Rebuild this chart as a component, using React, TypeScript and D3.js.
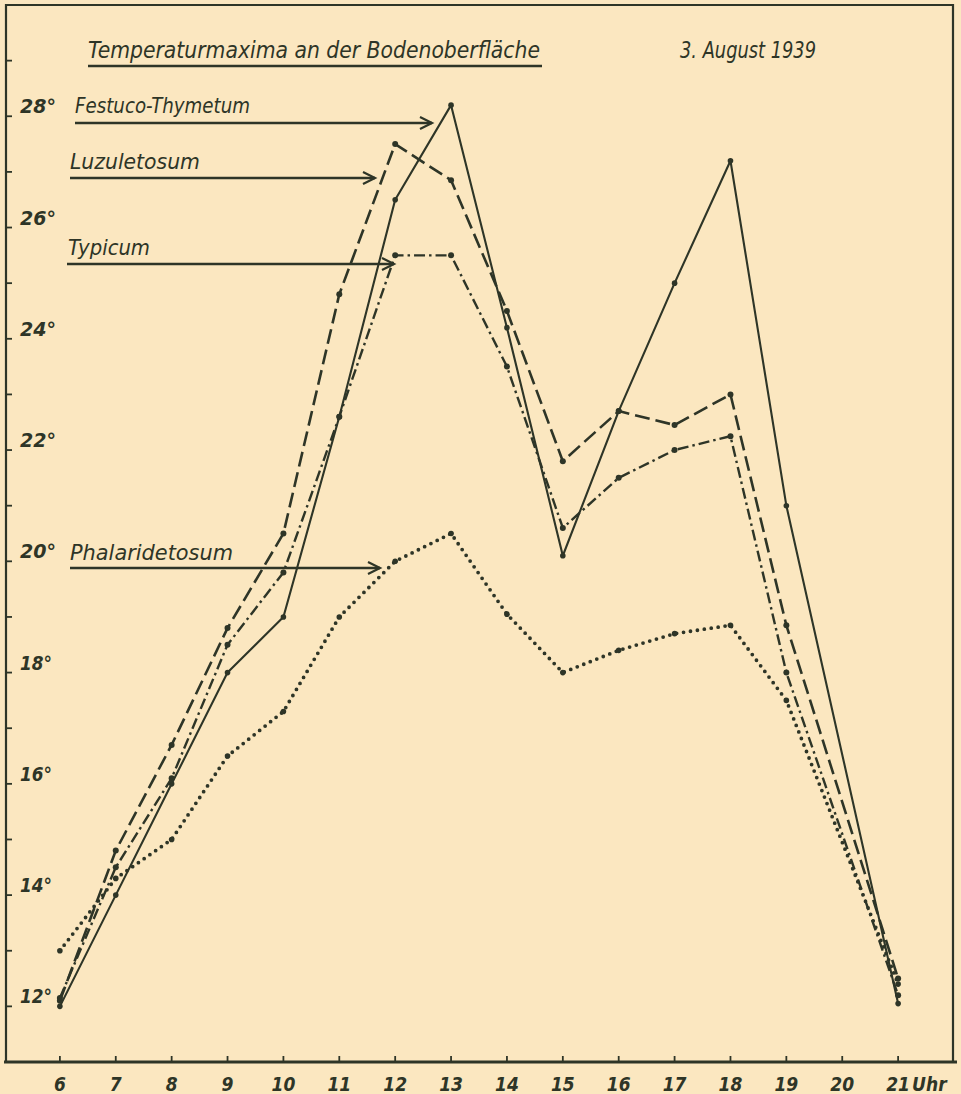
import React from 'react';
import * as d3 from 'd3';

// Stunden (20 Uhr hat keine Messung)
const hours = [6, 7, 8, 9, 10, 11, 12, 13, 14, 15, 16, 17, 18, 19, 21];
const hourTicks = [6, 7, 8, 9, 10, 11, 12, 13, 14, 15, 16, 17, 18, 19, 20, 21];
const degreeLabels = [12, 14, 16, 18, 20, 22, 24, 26, 28];

const festuco = [12.0, 14.0, 16.0, 18.0, 19.0, 22.6, 26.5, 28.2, 24.2, 20.1, 22.7, 25.0, 27.2, 21.0, 12.05];
const luzuletosum = [12.1, 14.8, 16.7, 18.8, 20.5, 24.8, 27.5, 26.85, 24.5, 21.8, 22.7, 22.45, 23.0, 18.85, 12.5];
const typicum = [12.15, 14.5, 16.1, 18.5, 19.8, 22.6, 25.5, 25.5, 23.5, 20.6, 21.5, 22.0, 22.25, 18.0, 12.2];
const phalaridetosum = [13.0, 14.3, 15.0, 16.5, 17.3, 19.0, 20.0, 20.5, 19.05, 18.0, 18.4, 18.7, 18.85, 17.5, 12.4];

const seriesNames = ['Festuco-Thymetum', 'Luzuletosum', 'Typicum', 'Phalaridetosum'];

const W = 961;
const H = 1094;
const ink = '#2e3527';
const paper = '#fbe7c0';
const font = '"DejaVu Sans Condensed", "DejaVu Sans", sans-serif';

const x = d3.scaleLinear().domain([5, 22]).range([4, 954]);
const y = d3.scaleLinear().domain([11, 30]).range([1062, 5]);

const line = d3
  .line<number>()
  .x((d, i) => x(hours[i]))
  .y((d) => y(d));

const series = [
  { name: seriesNames[0], values: festuco, dash: null, width: 2.1, cap: 'butt', dotR: 2.8 },
  { name: seriesNames[1], values: luzuletosum, dash: '15 6', width: 2.6, cap: 'butt', dotR: 3 },
  { name: seriesNames[2], values: typicum, dash: '11 4 2.5 4', width: 2.4, cap: 'butt', dotR: 3 },
  { name: seriesNames[3], values: phalaridetosum, dash: '0 7', width: 3.8, cap: 'round', dotR: 2.8 },
];

// Beschriftungen mit Pfeilen: Textbreite, Pfeilspitze und Höhe der Pfeillinie
const labels = [
  { name: seriesNames[0], tx: 75, tw: 175, ty: 113, ay: 123, ax0: 75, ax1: 432 },
  { name: seriesNames[1], tx: 70, tw: 130, ty: 169, ay: 178, ax0: 70, ax1: 375 },
  { name: seriesNames[2], tx: 68, tw: 82, ty: 255, ay: 264, ax0: 67, ax1: 394 },
  { name: seriesNames[3], tx: 70, tw: 163, ty: 560, ay: 568, ax0: 70, ax1: 380 },
];

const App = () => {
  const yTicks = d3.range(12, 30);
  return (
    <svg
      width={W}
      height={H}
      style={{ position: 'absolute', left: 0, top: 0, background: paper }}
      fontFamily={font}
    >
      <rect x={0} y={0} width={W} height={H} fill={paper} />

      {/* Rahmen */}
      <path
        d={`M${x(5) + 2},${y(11)} L${x(5) + 2},${y(30)} L${x(22) - 1},${y(30)} L${x(22) - 1},${y(11)}`}
        fill="none"
        stroke={ink}
        strokeWidth={2.2}
      />
      <line x1={x(5)} x2={x(22) + 3} y1={y(11)} y2={y(11)} stroke={ink} strokeWidth={3} />

      {/* Skalenstriche links */}
      {yTicks.map((t) => (
        <line key={t} x1={x(5) + 2} x2={x(5) + 8} y1={y(t)} y2={y(t)} stroke={ink} strokeWidth={1.8} />
      ))}
      {degreeLabels.map((t) => (
        <text
          key={t}
          x={20}
          y={y(t) - 3}
          fontSize={19}
          fontStyle="italic"
          fontWeight={600}
          fill={ink}
          textLength={t >= 20 ? 36 : 32}
          lengthAdjust="spacingAndGlyphs"
        >
          {t + '°'}
        </text>
      ))}

      {/* Zeitachse */}
      {hourTicks.map((h) => (
        <g key={h}>
          <line x1={x(h)} x2={x(h)} y1={y(11)} y2={y(11) - 6} stroke={ink} strokeWidth={1.8} />
          <text
            x={x(h)}
            y={y(11) + 29}
            fontSize={19}
            fontStyle="italic"
            fontWeight={600}
            textAnchor="middle"
            fill={ink}
          >
            {h}
          </text>
        </g>
      ))}
      <text x={x(21) + 14} y={y(11) + 29} fontSize={19} fontStyle="italic" fontWeight={600} fill={ink}>
        Uhr
      </text>

      {/* Titel */}
      <text
        x={88}
        y={58}
        fontSize={23}
        fontStyle="italic"
        fill={ink}
        textLength={452}
        lengthAdjust="spacingAndGlyphs"
      >
        Temperaturmaxima an der Bodenoberfläche
      </text>
      <line x1={88} x2={542} y1={66} y2={66} stroke={ink} strokeWidth={2.4} />
      <text
        x={680}
        y={58}
        fontSize={23}
        fontStyle="italic"
        fill={ink}
        textLength={136}
        lengthAdjust="spacingAndGlyphs"
      >
        3. August 1939
      </text>

      {/* Kurven */}
      {series.map((s) => (
        <g key={s.name}>
          <path
            d={line(s.values) || ''}
            fill="none"
            stroke={ink}
            strokeWidth={s.width}
            strokeDasharray={s.dash || undefined}
            strokeLinecap={s.cap as any}
            strokeLinejoin="round"
          />
          {s.values.map((v, i) => (
            <circle key={i} cx={x(hours[i])} cy={y(v)} r={s.dotR} fill={ink} />
          ))}
        </g>
      ))}

      {/* Beschriftungen mit Pfeilen */}
      {labels.map((l) => (
        <g key={l.name}>
          <text
            x={l.tx}
            y={l.ty}
            fontSize={22}
            fontStyle="italic"
            fill={ink}
            textLength={l.tw}
            lengthAdjust="spacingAndGlyphs"
          >
            {l.name}
          </text>
          <line x1={l.ax0} x2={l.ax1} y1={l.ay} y2={l.ay} stroke={ink} strokeWidth={2.4} />
          <path
            d={`M${l.ax1 - 12},${l.ay - 6} L${l.ax1},${l.ay} L${l.ax1 - 12},${l.ay + 6}`}
            fill="none"
            stroke={ink}
            strokeWidth={2.2}
          />
        </g>
      ))}
    </svg>
  );
};

export default App;
